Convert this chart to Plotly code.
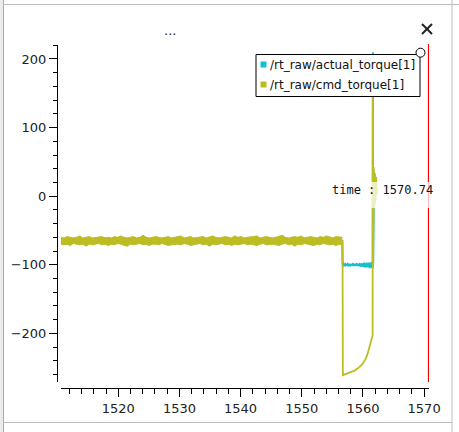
import numpy as np
import plotly.graph_objects as go

# ---------------- data ----------------
series_names = ["/rt_raw/actual_torque[1]", "/rt_raw/cmd_torque[1]"]
series_colors = ["#17becf", "#bcbd22"]

x_tick_vals = [1520, 1530, 1540, 1550, 1560, 1570]
y_tick_vals = [-200, -100, 0, 100, 200]
cursor_time = 1570.74

steady_start, steady_end = 1510.6, 1556.62

# noisy steady part of cmd_torque: upper / lower envelope of the noise band
cmd_upper = [
    -60, -61, -59, -60, -61, -60, -58, -61, -60, -59,
    -61, -60, -60, -59, -61, -60, -61, -59, -60, -58,
    -60, -61, -60, -59, -61, -60, -57, -60, -61, -60,
    -59, -60, -61, -60, -59, -61, -60, -60, -58, -61,
    -60, -59, -61, -60, -60, -59, -61, -60, -58, -60,
    -61, -60, -59, -60, -61, -58, -60, -59, -61, -60,
    -60, -59, -58, -61, -60, -59, -60, -61, -60, -59,
    -57, -60, -61, -60, -59, -60, -58, -61, -60, -59,
    -60, -61, -59, -60, -58, -60, -61, -59, -60, -60,
]
cmd_lower = [
    -70, -71, -70, -72, -69, -70, -71, -70, -73, -70,
    -71, -70, -69, -71, -70, -72, -70, -71, -69, -70,
    -71, -73, -70, -71, -70, -69, -71, -70, -72, -70,
    -70, -71, -69, -70, -72, -71, -70, -70, -71, -69,
    -70, -72, -71, -70, -69, -71, -70, -73, -70, -71,
    -70, -69, -71, -70, -72, -70, -71, -70, -69, -71,
    -70, -71, -72, -70, -69, -71, -70, -70, -71, -72,
    -70, -69, -71, -70, -73, -70, -71, -69, -70, -71,
    -72, -70, -71, -69, -70, -71, -70, -72, -70, -71,
]

act_steady = [
    -63, -66, -62, -67, -64, -65, -61, -66, -63, -67,
    -62, -65, -64, -66, -63, -67, -61, -66, -62, -65,
    -64, -67, -63, -66, -62, -65, -62, -67, -64, -66,
    -63, -65, -62, -67, -61, -66, -63, -65, -64, -66,
]

cmd_tr_t = [1556.62, 1556.66, 1556.72, 1557.3, 1558.0, 1558.7, 1559.3, 1559.9,
            1560.4, 1560.8, 1561.1, 1561.35, 1561.5, 1561.58]
cmd_tr = [-65, -65, -261, -259, -257, -254, -250, -245,
          -238, -229, -219, -210, -205, -203]

cmd_spike_t = [1561.62, 1561.66, 1561.70, 1561.74, 1561.78, 1561.83,
               1561.88, 1561.94, 1562.00, 1562.08, 1562.16, 1562.25, 1562.33]
cmd_spike = [208, -105, 45, -20, 42, -15, 38, -12, 33, -6, 28, 2, 12]

act_tr_start, act_tr_end = 1556.7, 1561.6
act_tr = [
    -100, -99, -101, -100, -99, -101, -100, -100, -99, -101,
    -100, -99, -102, -100, -99, -101, -100, -98, -102, -100,
    -99, -101, -100, -98, -102, -99, -101, -100, -98, -103,
    -99, -101, -98, -103, -100, -97, -104, -99, -102, -97,
    -104, -98, -103, -97, -105, -98, -104, -96, -105, -97,
]

act_spike_t = [1561.63, 1561.67, 1561.71, 1561.76, 1561.82, 1561.9, 1562.0]
act_spike = [210, -100, 40, -15, 35, -8, 20]

# ---------------- build series ----------------
t_band = np.linspace(steady_start, steady_end, len(cmd_upper))
t_act_steady = np.linspace(steady_start, steady_end, len(act_steady))
t_act_tr = np.linspace(act_tr_start, act_tr_end, len(act_tr))

t_cmd = cmd_tr_t + cmd_spike_t
y_cmd = cmd_tr + cmd_spike
t_act = list(t_act_steady) + [1556.68] + list(t_act_tr) + act_spike_t
y_act = act_steady + [-100] + act_tr + act_spike

W, H = 459, 432
ML, MR, MT, MB = 57, 30, 45, 44
PW, PH = W - ML - MR, H - MT - MB


def px(x):
    return (x - ML) / PW


def py(y):
    return (H - MB - y) / PH


fig = go.Figure()
fig.add_trace(go.Scatter(x=t_act, y=y_act, mode="lines",
                         line=dict(color=series_colors[0], width=2),
                         showlegend=False, hoverinfo="skip"))
fig.add_trace(go.Scatter(x=t_band, y=cmd_upper, mode="lines",
                         line=dict(color=series_colors[1], width=1),
                         showlegend=False, hoverinfo="skip"))
fig.add_trace(go.Scatter(x=t_band, y=cmd_lower, mode="lines", fill="tonexty",
                         fillcolor=series_colors[1],
                         line=dict(color=series_colors[1], width=1),
                         showlegend=False, hoverinfo="skip"))
fig.add_trace(go.Scatter(x=t_cmd, y=y_cmd, mode="lines",
                         line=dict(color=series_colors[1], width=1.8),
                         showlegend=False, hoverinfo="skip"))

shapes = []
annotations = []
frame_col = "#bdbdbd"
# window frame
shapes.append(dict(type="rect", xref="paper", yref="paper", x0=px(0), x1=px(3),
                   y0=py(0), y1=py(H), fillcolor="#ebebeb", line=dict(width=0), layer="below"))
shapes.append(dict(type="line", xref="paper", yref="paper", x0=px(3.5), x1=px(3.5),
                   y0=py(0), y1=py(H), line=dict(color="#a8a8a8", width=1)))
shapes.append(dict(type="line", xref="paper", yref="paper", x0=px(3), x1=px(W),
                   y0=py(4.5), y1=py(4.5), line=dict(color=frame_col, width=1)))
shapes.append(dict(type="line", xref="paper", yref="paper", x0=px(452), x1=px(452),
                   y0=py(0), y1=py(H), line=dict(color=frame_col, width=1)))
shapes.append(dict(type="line", xref="paper", yref="paper", x0=px(3), x1=px(452),
                   y0=py(422.5), y1=py(422.5), line=dict(color=frame_col, width=1)))

# cursor line
shapes.append(dict(type="line", xref="x", yref="paper", x0=cursor_time, x1=cursor_time,
                   y0=py(382), y1=py(44), line=dict(color="#ff0000", width=1.5)))

# cursor label background (semi-transparent)
shapes.append(dict(type="rect", xref="paper", yref="paper", x0=px(330), x1=px(432),
                   y0=py(208), y1=py(182), fillcolor="rgba(255,255,255,0.72)",
                   line=dict(width=0)))

# close "x"
shapes.append(dict(type="line", xref="paper", yref="paper", x0=px(422), x1=px(432),
                   y0=py(24), y1=py(34), line=dict(color="#222222", width=2)))
shapes.append(dict(type="line", xref="paper", yref="paper", x0=px(422), x1=px(432),
                   y0=py(34), y1=py(24), line=dict(color="#222222", width=2)))

# legend box
lx0, lx1, ly0, ly1 = 256, 420, 54.5, 96.5
shapes.append(dict(type="rect", xref="paper", yref="paper", x0=px(lx0), x1=px(lx1),
                   y0=py(ly1), y1=py(ly0), fillcolor="white",
                   line=dict(color="#000000", width=1)))
for i, (name, col) in enumerate(zip(series_names, series_colors)):
    cy = 64.5 + 20 * i
    shapes.append(dict(type="rect", xref="paper", yref="paper", x0=px(260.5), x1=px(266.5),
                       y0=py(cy + 3), y1=py(cy - 3), fillcolor=col, line=dict(width=0)))
    annotations.append(dict(text=name, xref="paper", yref="paper", x=px(267.5), y=py(cy),
                            xanchor="left", yanchor="middle", showarrow=False,
                            font=dict(family="DejaVu Sans", size=12, color="#111111")))
# resize handle circle
shapes.append(dict(type="circle", xref="paper", yref="paper", x0=px(416), x1=px(425),
                   y0=py(57.2), y1=py(48.2), fillcolor="white",
                   line=dict(color="#000000", width=1)))

# title
annotations.append(dict(text="...", xref="paper", yref="paper", x=px(170), y=py(30),
                        xanchor="center", yanchor="middle", showarrow=False,
                        font=dict(family="DejaVu Sans", size=13, color="#222222")))
# cursor label
annotations.append(dict(text=f"time : {cursor_time:.2f}", xref="paper", yref="paper",
                        x=px(434), y=py(189.5), xanchor="right", yanchor="middle",
                        showarrow=False, borderpad=0,
                        font=dict(family="DejaVu Sans Mono", size=12, color="#111111")))

fig.update_layout(
    width=W, height=H,
    margin=dict(l=ML, r=MR, t=MT, b=MB, pad=0),
    paper_bgcolor="white", plot_bgcolor="white",
    showlegend=False,
    shapes=shapes, annotations=annotations,
    font=dict(family="DejaVu Sans", size=13, color="#222222"),
    xaxis=dict(domain=[4 / PW, 1], range=[1510.64, 1570.8], anchor="free", position=0,
               showgrid=False, zeroline=False, showline=True, linecolor="black", linewidth=1,
               tickmode="array", tickvals=x_tick_vals, ticks="outside", ticklen=8,
               tickcolor="black", tickwidth=1,
               minor=dict(dtick=2, ticks="outside", ticklen=5, tickcolor="black", tickwidth=1, showgrid=False),
               tickfont=dict(family="DejaVu Sans", size=13, color="#222222")),
    yaxis=dict(domain=[6 / PH, 1], range=[-271, 220.4], anchor="free", position=0,
               showgrid=False, zeroline=False, showline=True, linecolor="black", linewidth=1,
               tickmode="array", tickvals=y_tick_vals, ticks="outside", ticklen=8,
               tickcolor="black", tickwidth=1,
               minor=dict(dtick=20, ticks="outside", ticklen=4, tickcolor="black", tickwidth=1, showgrid=False),
               tickfont=dict(family="DejaVu Sans", size=13, color="#222222")),
)

fig.write_html("out.html", config={"displayModeBar": False},
               post_script="document.body.style.margin='0';document.body.style.overflow='hidden';")
